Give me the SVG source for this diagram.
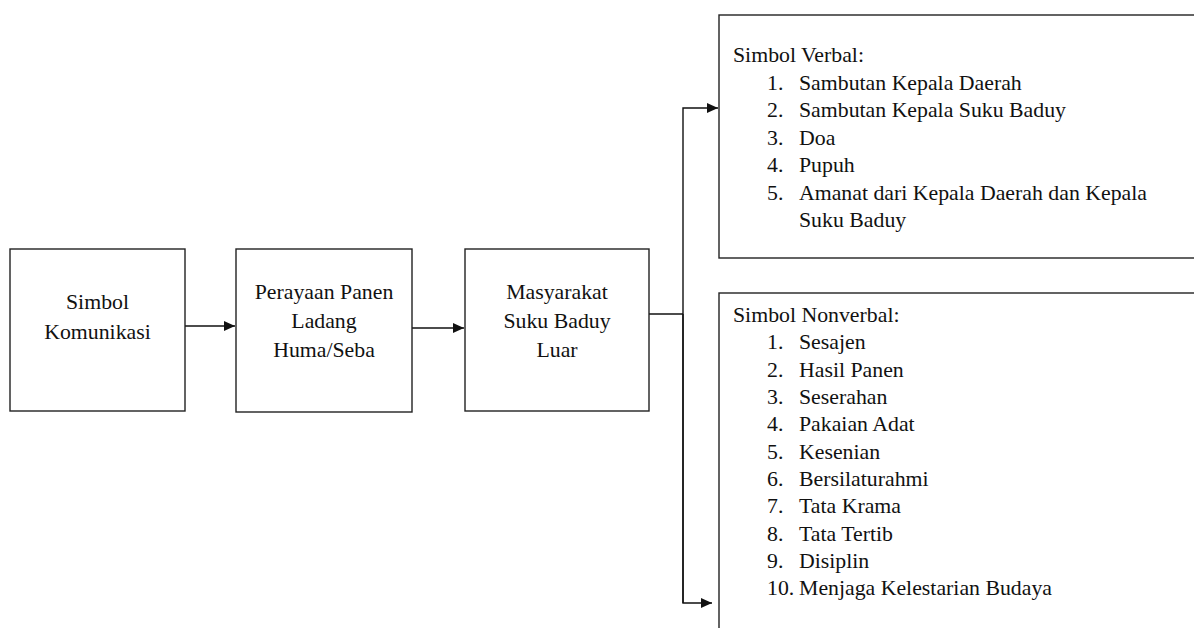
<svg xmlns="http://www.w3.org/2000/svg" width="1194" height="628" viewBox="0 0 1194 628">
<defs>
<marker id="ah" markerWidth="12" markerHeight="10" refX="11" refY="5" orient="auto" markerUnits="userSpaceOnUse">
<path d="M0,0 L11,5 L0,10 Z" fill="#111"/>
</marker>
</defs>
<rect width="1194" height="628" fill="#fff"/>
<g id="connectors" fill="none" stroke="#111" stroke-width="1.4">
<line x1="185" y1="326" x2="235" y2="326" marker-end="url(#ah)"/>
<line x1="412" y1="328" x2="464" y2="328" marker-end="url(#ah)"/>
<polyline points="649,314 683,314"/>
<polyline points="683,603 683,108 718,108" marker-end="url(#ah)"/>
<polyline points="683,314 683,603 712,603" marker-end="url(#ah)"/>
</g>
<g id="node-simbol-komunikasi">
<rect x="10" y="249" width="175" height="162" fill="#fff" stroke="#222" stroke-width="1.4"/>
<text font-family="Times New Roman, Liberation Serif, serif" font-size="21.8" fill="#111" text-anchor="middle" x="97.5" y="309">Simbol</text>
<text font-family="Times New Roman, Liberation Serif, serif" font-size="21.8" fill="#111" text-anchor="middle" x="97.5" y="339">Komunikasi</text>
</g>
<g id="node-perayaan">
<rect x="236" y="249" width="176" height="163" fill="#fff" stroke="#222" stroke-width="1.4"/>
<text font-family="Times New Roman, Liberation Serif, serif" font-size="21.8" fill="#111" text-anchor="middle" x="324" y="299">Perayaan Panen</text>
<text font-family="Times New Roman, Liberation Serif, serif" font-size="21.8" fill="#111" text-anchor="middle" x="324" y="328">Ladang</text>
<text font-family="Times New Roman, Liberation Serif, serif" font-size="21.8" fill="#111" text-anchor="middle" x="324" y="357">Huma/Seba</text>
</g>
<g id="node-masyarakat">
<rect x="465" y="249" width="184" height="162" fill="#fff" stroke="#222" stroke-width="1.4"/>
<text font-family="Times New Roman, Liberation Serif, serif" font-size="21.8" fill="#111" text-anchor="middle" x="557" y="299">Masyarakat</text>
<text font-family="Times New Roman, Liberation Serif, serif" font-size="21.8" fill="#111" text-anchor="middle" x="557" y="328">Suku Baduy</text>
<text font-family="Times New Roman, Liberation Serif, serif" font-size="21.8" fill="#111" text-anchor="middle" x="557" y="357">Luar</text>
</g>
<g id="node-verbal">
<rect x="719" y="15" width="500" height="243" fill="#fff" stroke="#222" stroke-width="1.4"/>
<text font-family="Times New Roman, Liberation Serif, serif" font-size="21.8" fill="#111" x="733" y="62">Simbol Verbal:</text>
<text font-family="Times New Roman, Liberation Serif, serif" font-size="21.8" fill="#111" x="767" y="90">1.</text>
<text font-family="Times New Roman, Liberation Serif, serif" font-size="21.8" fill="#111" x="799" y="90">Sambutan Kepala Daerah</text>
<text font-family="Times New Roman, Liberation Serif, serif" font-size="21.8" fill="#111" x="767" y="117">2.</text>
<text font-family="Times New Roman, Liberation Serif, serif" font-size="21.8" fill="#111" x="799" y="117">Sambutan Kepala Suku Baduy</text>
<text font-family="Times New Roman, Liberation Serif, serif" font-size="21.8" fill="#111" x="767" y="145">3.</text>
<text font-family="Times New Roman, Liberation Serif, serif" font-size="21.8" fill="#111" x="799" y="145">Doa</text>
<text font-family="Times New Roman, Liberation Serif, serif" font-size="21.8" fill="#111" x="767" y="172">4.</text>
<text font-family="Times New Roman, Liberation Serif, serif" font-size="21.8" fill="#111" x="799" y="172">Pupuh</text>
<text font-family="Times New Roman, Liberation Serif, serif" font-size="21.8" fill="#111" x="767" y="200">5.</text>
<text font-family="Times New Roman, Liberation Serif, serif" font-size="21.8" fill="#111" x="799" y="200">Amanat dari Kepala Daerah dan Kepala</text>
<text font-family="Times New Roman, Liberation Serif, serif" font-size="21.8" fill="#111" x="799" y="227">Suku Baduy</text>
</g>
<g id="node-nonverbal">
<rect x="719" y="293" width="500" height="360" fill="#fff" stroke="#222" stroke-width="1.4"/>
<text font-family="Times New Roman, Liberation Serif, serif" font-size="21.8" fill="#111" x="733" y="322">Simbol Nonverbal:</text>
<text font-family="Times New Roman, Liberation Serif, serif" font-size="21.8" fill="#111" x="767" y="349">1.</text>
<text font-family="Times New Roman, Liberation Serif, serif" font-size="21.8" fill="#111" x="799" y="349">Sesajen</text>
<text font-family="Times New Roman, Liberation Serif, serif" font-size="21.8" fill="#111" x="767" y="377">2.</text>
<text font-family="Times New Roman, Liberation Serif, serif" font-size="21.8" fill="#111" x="799" y="377">Hasil Panen</text>
<text font-family="Times New Roman, Liberation Serif, serif" font-size="21.8" fill="#111" x="767" y="404">3.</text>
<text font-family="Times New Roman, Liberation Serif, serif" font-size="21.8" fill="#111" x="799" y="404">Seserahan</text>
<text font-family="Times New Roman, Liberation Serif, serif" font-size="21.8" fill="#111" x="767" y="431">4.</text>
<text font-family="Times New Roman, Liberation Serif, serif" font-size="21.8" fill="#111" x="799" y="431">Pakaian Adat</text>
<text font-family="Times New Roman, Liberation Serif, serif" font-size="21.8" fill="#111" x="767" y="459">5.</text>
<text font-family="Times New Roman, Liberation Serif, serif" font-size="21.8" fill="#111" x="799" y="459">Kesenian</text>
<text font-family="Times New Roman, Liberation Serif, serif" font-size="21.8" fill="#111" x="767" y="486">6.</text>
<text font-family="Times New Roman, Liberation Serif, serif" font-size="21.8" fill="#111" x="799" y="486">Bersilaturahmi</text>
<text font-family="Times New Roman, Liberation Serif, serif" font-size="21.8" fill="#111" x="767" y="513">7.</text>
<text font-family="Times New Roman, Liberation Serif, serif" font-size="21.8" fill="#111" x="799" y="513">Tata Krama</text>
<text font-family="Times New Roman, Liberation Serif, serif" font-size="21.8" fill="#111" x="767" y="541">8.</text>
<text font-family="Times New Roman, Liberation Serif, serif" font-size="21.8" fill="#111" x="799" y="541">Tata Tertib</text>
<text font-family="Times New Roman, Liberation Serif, serif" font-size="21.8" fill="#111" x="767" y="568">9.</text>
<text font-family="Times New Roman, Liberation Serif, serif" font-size="21.8" fill="#111" x="799" y="568">Disiplin</text>
<text font-family="Times New Roman, Liberation Serif, serif" font-size="21.8" fill="#111" x="767" y="595">10.</text>
<text font-family="Times New Roman, Liberation Serif, serif" font-size="21.8" fill="#111" x="799" y="595">Menjaga Kelestarian Budaya</text>
</g>
</svg>
